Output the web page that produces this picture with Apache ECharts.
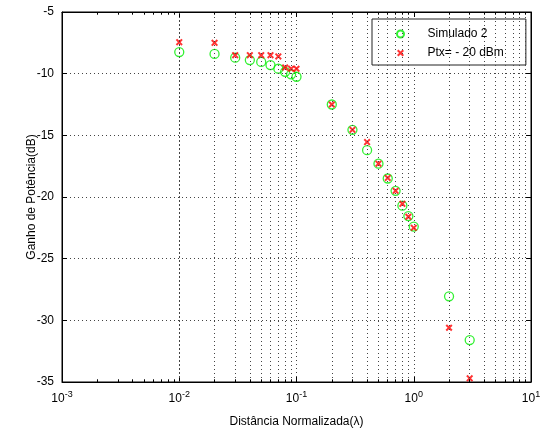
<!DOCTYPE html>
<html>
<head>
<meta charset="utf-8">
<script src="https://cdn.jsdelivr.net/npm/echarts@6/dist/echarts.min.js"></script>
<style>
    html, body { margin: 0; padding: 0; background: #fff; }
    #chart { width: 545px; height: 435px; }
</style>
</head>
<body>
<div id="chart"></div>
<script>
// distancias normalizadas (lambda)
var distances = [0.01, 0.02, 0.03, 0.04, 0.05, 0.06, 0.07, 0.08, 0.09, 0.1,
    0.2, 0.3, 0.4, 0.5, 0.6, 0.7, 0.8, 0.9, 1, 2, 3];
var simulado2 = [-8.25, -8.4, -8.7, -8.9, -9.05, -9.3, -9.6, -9.85, -10.05, -10.25,
    -12.5, -14.55, -16.2, -17.3, -18.5, -19.5, -20.7, -21.55, -22.4, -28.05, -31.6];
var ptx20 = [-7.45, -7.5, -8.5, -8.5, -8.5, -8.5, -8.6, -9.5, -9.6, -9.6,
    -12.5, -14.55, -15.55, -17.3, -18.45, -19.5, -20.55, -21.6, -22.5, -30.6, -34.7];
var decades = [0.001, 0.01, 0.1, 1, 10];
var minorSteps = [2, 3, 4, 5, 6, 7, 8, 9];

var FONT = 'Liberation Sans, Arial, sans-serif';
var CROSS = 'path://M0,2 L2,0 L5,3 L8,0 L10,2 L7,5 L10,8 L8,10 L5,7 L2,10 L0,8 L3,5 Z';
var Y_MIN = -35, Y_MAX = -5, MINOR_TICK = 0.22;

function pairs(xs, ys) {
    var out = [];
    for (var i = 0; i < xs.length; i++) {
        out.push([xs[i], ys[i]]);
    }
    return out;
}

// linhas de grade e ticks menores do eixo log (2..9 em cada decada)
var minorLines = [];
var minorTicks = [];
for (var d = 0; d < decades.length - 1; d++) {
    for (var k = 0; k < minorSteps.length; k++) {
        var xv = decades[d] * minorSteps[k];
        minorLines.push({xAxis: xv});
        minorTicks.push([{coord: [xv, Y_MIN]}, {coord: [xv, Y_MIN + MINOR_TICK]}]);
        minorTicks.push([{coord: [xv, Y_MAX]}, {coord: [xv, Y_MAX - MINOR_TICK]}]);
    }
}

var gridLine = {show: true, lineStyle: {color: '#444', type: [1, 3], width: 1}};

var chart = echarts.init(document.getElementById('chart'));
chart.setOption({
    animation: false,
    backgroundColor: '#fff',
    textStyle: {fontFamily: FONT},
    grid: {left: 62, right: 14, top: 12, bottom: 53, show: true, borderColor: '#000', borderWidth: 1},
    legend: {
        left: 372,
        top: 19,
        orient: 'vertical',
        backgroundColor: '#fff',
        borderColor: '#222',
        borderWidth: 1,
        padding: [9, 22, 6, 24],
        itemWidth: 44,
        itemHeight: 7,
        itemGap: 7,
        textStyle: {fontFamily: FONT, fontSize: 12, color: '#000'},
        data: ['Simulado 2', 'Ptx= - 20 dBm']
    },
    xAxis: [{
        type: 'log',
        logBase: 10,
        min: 0.001,
        max: 10,
        name: 'Distância Normalizada(λ)',
        nameLocation: 'middle',
        nameGap: 34,
        nameMoveOverlap: false,
        nameTextStyle: {fontFamily: FONT, fontSize: 12, color: '#000'},
        axisLine: {lineStyle: {color: '#000'}},
        axisTick: {inside: true, length: 5, lineStyle: {color: '#000'}},
        axisLabel: {
            margin: 8,
            color: '#000',
            formatter: function (v) {
                var e = Math.round(Math.log10(v));
                return '{b|10}{s|' + e + '}';
            },
            rich: {
                b: {fontFamily: FONT, fontSize: 12, color: '#000'},
                s: {fontFamily: FONT, fontSize: 9, color: '#000', padding: [0, 0, 9, 0]}
            }
        },
        splitLine: gridLine
    }, {
        type: 'log',
        logBase: 10,
        min: 0.001,
        max: 10,
        position: 'top',
        axisLine: {lineStyle: {color: '#000'}},
        axisTick: {inside: true, length: 5, lineStyle: {color: '#000'}},
        axisLabel: {show: false},
        splitLine: {show: false}
    }],
    yAxis: [{
        type: 'value',
        min: Y_MIN,
        max: Y_MAX,
        interval: 5,
        name: 'Ganho de Potência(dB)',
        nameLocation: 'middle',
        nameGap: 24,
        nameMoveOverlap: false,
        nameTextStyle: {fontFamily: FONT, fontSize: 12, color: '#000'},
        axisLine: {show: true, lineStyle: {color: '#000'}},
        axisTick: {show: true, inside: true, length: 5, lineStyle: {color: '#000'}},
        axisLabel: {margin: 8, color: '#000', fontFamily: FONT, fontSize: 12},
        splitLine: gridLine
    }, {
        type: 'value',
        min: Y_MIN,
        max: Y_MAX,
        interval: 5,
        position: 'right',
        axisLine: {show: true, lineStyle: {color: '#000'}},
        axisTick: {show: true, inside: true, length: 5, lineStyle: {color: '#000'}},
        axisLabel: {show: false},
        splitLine: {show: false}
    }],
    series: [{
        name: 'Simulado 2',
        type: 'scatter',
        symbol: 'circle',
        symbolSize: 9,
        itemStyle: {color: 'rgba(0,0,0,0)', borderColor: '#00ee00', borderWidth: 1.3},
        data: pairs(distances, simulado2),
        markLine: {
            silent: true,
            symbol: 'none',
            animation: false,
            label: {show: false},
            lineStyle: {color: '#444', type: [1, 3], width: 1},
            data: minorLines
        },
        z: 2
    }, {
        name: 'Ptx= - 20 dBm',
        type: 'scatter',
        symbol: CROSS,
        symbolSize: 7,
        itemStyle: {color: '#ff0000'},
        data: pairs(distances, ptx20),
        markLine: {
            silent: true,
            symbol: 'none',
            animation: false,
            label: {show: false},
            lineStyle: {color: '#000', type: 'solid', width: 1},
            data: minorTicks
        },
        z: 3
    }]
});
</script>
</body>
</html>
